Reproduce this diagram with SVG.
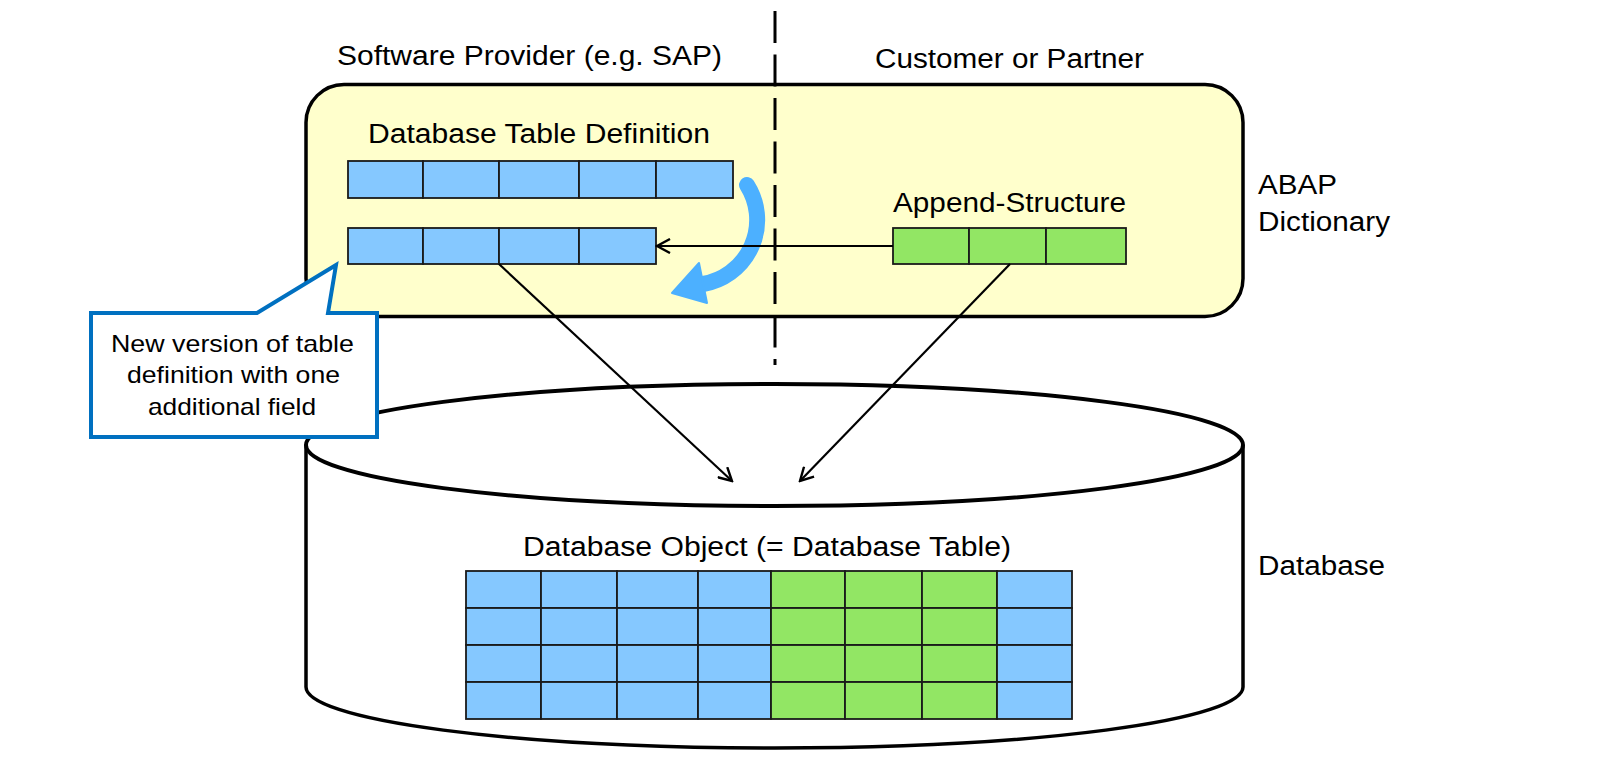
<svg xmlns="http://www.w3.org/2000/svg" width="1600" height="760" viewBox="0 0 1600 760">
  <defs>
    <style>
      .t { font-family: "Liberation Sans", Arial, sans-serif; font-size: 27px; fill: #000; }
      .c { font-family: "Liberation Sans", Arial, sans-serif; font-size: 24px; fill: #000; }
      .blue { fill: #85C8FF; stroke: #1a1a1a; stroke-width: 1.8; }
      .green { fill: #92E664; stroke: #1a1a1a; stroke-width: 1.8; }
      .conn { stroke: #000; stroke-width: 2.2; fill: none; }
    </style>
    <marker id="arr" viewBox="0 0 16 16" refX="14" refY="8" markerWidth="16" markerHeight="16" markerUnits="userSpaceOnUse" orient="auto">
      <path d="M1 1 L14 8 L1 15" fill="none" stroke="#000" stroke-width="2.4"/>
    </marker>
  </defs>
  <rect width="1600" height="760" fill="#fff"/>

  <!-- Database cylinder -->
  <g id="database">
    <path d="M306 445 L306 687 A468.5 61 0 0 0 1243 687 L1243 445" fill="#fff" stroke="#000" stroke-width="3.5"/>
    <ellipse cx="774.5" cy="445" rx="468.5" ry="61" fill="#fff" stroke="#000" stroke-width="4"/>
    <text class="t" x="523" y="556" textLength="488" lengthAdjust="spacingAndGlyphs">Database Object (= Database Table)</text>
    <g id="db-table">
      <rect class="blue" x="466" y="571" width="75" height="37"/>
      <rect class="blue" x="541" y="571" width="76" height="37"/>
      <rect class="blue" x="617" y="571" width="81" height="37"/>
      <rect class="blue" x="698" y="571" width="73" height="37"/>
      <rect class="green" x="771" y="571" width="74" height="37"/>
      <rect class="green" x="845" y="571" width="77" height="37"/>
      <rect class="green" x="922" y="571" width="75" height="37"/>
      <rect class="blue" x="997" y="571" width="75" height="37"/>
      <rect class="blue" x="466" y="608" width="75" height="37"/>
      <rect class="blue" x="541" y="608" width="76" height="37"/>
      <rect class="blue" x="617" y="608" width="81" height="37"/>
      <rect class="blue" x="698" y="608" width="73" height="37"/>
      <rect class="green" x="771" y="608" width="74" height="37"/>
      <rect class="green" x="845" y="608" width="77" height="37"/>
      <rect class="green" x="922" y="608" width="75" height="37"/>
      <rect class="blue" x="997" y="608" width="75" height="37"/>
      <rect class="blue" x="466" y="645" width="75" height="37"/>
      <rect class="blue" x="541" y="645" width="76" height="37"/>
      <rect class="blue" x="617" y="645" width="81" height="37"/>
      <rect class="blue" x="698" y="645" width="73" height="37"/>
      <rect class="green" x="771" y="645" width="74" height="37"/>
      <rect class="green" x="845" y="645" width="77" height="37"/>
      <rect class="green" x="922" y="645" width="75" height="37"/>
      <rect class="blue" x="997" y="645" width="75" height="37"/>
      <rect class="blue" x="466" y="682" width="75" height="37"/>
      <rect class="blue" x="541" y="682" width="76" height="37"/>
      <rect class="blue" x="617" y="682" width="81" height="37"/>
      <rect class="blue" x="698" y="682" width="73" height="37"/>
      <rect class="green" x="771" y="682" width="74" height="37"/>
      <rect class="green" x="845" y="682" width="77" height="37"/>
      <rect class="green" x="922" y="682" width="75" height="37"/>
      <rect class="blue" x="997" y="682" width="75" height="37"/>
    </g>
  </g>

  <!-- ABAP Dictionary box -->
  <g id="dictionary">
    <rect x="306" y="84.5" width="937" height="232" rx="38" fill="#FFFFCC" stroke="#000" stroke-width="3.5"/>
  </g>

  <g id="table-definition">
    <text class="t" x="368" y="143" textLength="342" lengthAdjust="spacingAndGlyphs">Database Table Definition</text>
    <rect class="blue" x="348" y="161" width="75" height="37"/>
    <rect class="blue" x="423" y="161" width="76" height="37"/>
    <rect class="blue" x="499" y="161" width="80" height="37"/>
    <rect class="blue" x="579" y="161" width="77" height="37"/>
    <rect class="blue" x="656" y="161" width="77" height="37"/>
  </g>

  <g id="new-table-definition">
    <rect class="blue" x="348" y="228" width="75" height="36"/>
    <rect class="blue" x="423" y="228" width="76" height="36"/>
    <rect class="blue" x="499" y="228" width="80" height="36"/>
    <rect class="blue" x="579" y="228" width="77" height="36"/>
  </g>

  <g id="append-structure">
    <text class="t" x="893" y="212" textLength="233" lengthAdjust="spacingAndGlyphs">Append-Structure</text>
    <rect class="green" x="893" y="228" width="76" height="36"/>
    <rect class="green" x="969" y="228" width="77" height="36"/>
    <rect class="green" x="1046" y="228" width="80" height="36"/>
  </g>

  <!-- curved blue arrow -->
  <g id="curved-arrow">
    <path d="M747 185 A65 65 0 0 1 703 284" fill="none" stroke="#4CB0FF" stroke-width="16" stroke-linecap="round"/>
    <polygon points="699,263 707,303 672,293" fill="#4CB0FF" stroke="#4CB0FF" stroke-width="2" stroke-linejoin="round"/>
  </g>

  <!-- divider -->
  <line x1="775" y1="11" x2="775" y2="365" stroke="#000" stroke-width="3" stroke-dasharray="32 11.5"/>

  <!-- connectors -->
  <g id="connectors">
    <line class="conn" x1="893" y1="246" x2="657" y2="246" marker-end="url(#arr)"/>
    <line class="conn" x1="499" y1="264" x2="732" y2="481" marker-end="url(#arr)"/>
    <line class="conn" x1="1010" y1="264" x2="800" y2="481" marker-end="url(#arr)"/>
  </g>

  <!-- labels -->
  <g id="labels">
    <text class="t" x="337" y="65" textLength="385" lengthAdjust="spacingAndGlyphs">Software Provider (e.g. SAP)</text>
    <text class="t" x="875" y="68" textLength="269" lengthAdjust="spacingAndGlyphs">Customer or Partner</text>
    <text class="t" x="1258" y="194" textLength="79" lengthAdjust="spacingAndGlyphs">ABAP</text>
    <text class="t" x="1258" y="231" textLength="132" lengthAdjust="spacingAndGlyphs">Dictionary</text>
    <text class="t" x="1258" y="575" textLength="127" lengthAdjust="spacingAndGlyphs">Database</text>
  </g>

  <!-- callout -->
  <g id="callout">
    <path d="M91 313 L257 313 L336 265 L328 313 L377 313 L377 437 L91 437 Z" fill="#fff" stroke="#0070C0" stroke-width="4" stroke-linejoin="miter"/>
    <text class="c" x="111" y="352" textLength="243" lengthAdjust="spacingAndGlyphs">New version of table</text>
    <text class="c" x="127" y="383" textLength="213" lengthAdjust="spacingAndGlyphs">definition with one</text>
    <text class="c" x="148" y="415" textLength="168" lengthAdjust="spacingAndGlyphs">additional field</text>
  </g>
</svg>
